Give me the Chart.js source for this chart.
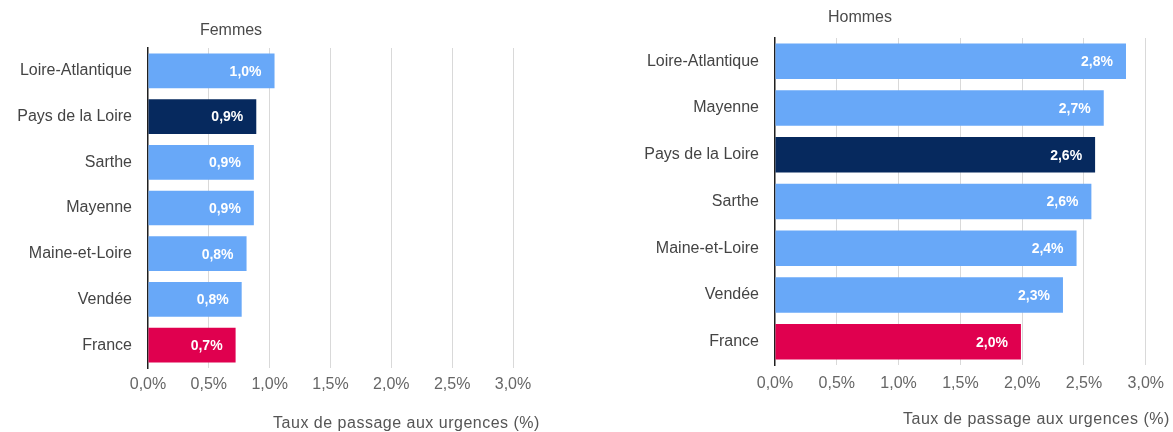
<!DOCTYPE html>
<html>
<head>
<meta charset="utf-8">
<script src="https://cdn.jsdelivr.net/npm/chart.js@4/dist/chart.umd.min.js"></script>
<style>
  body { margin: 0; background: #fff; width: 1173px; height: 432px; position: relative; overflow: hidden; }
  .box { position: absolute; top: 0; height: 432px; }
</style>
</head>
<body>
<div class="box" style="left:0;width:580px"><canvas id="femmesChart"></canvas></div>
<div class="box" style="left:590px;width:583px"><canvas id="hommesChart"></canvas></div>
<script>
// Données
const femmesLabels = ['Loire-Atlantique', 'Pays de la Loire', 'Sarthe', 'Mayenne', 'Maine-et-Loire', 'Vendée', 'France'];
const femmesValues = [1.04, 0.89, 0.87, 0.87, 0.81, 0.77, 0.72];

const hommesLabels = ['Loire-Atlantique', 'Mayenne', 'Pays de la Loire', 'Sarthe', 'Maine-et-Loire', 'Vendée', 'France'];
const hommesValues = [2.84, 2.66, 2.59, 2.56, 2.44, 2.33, 1.99];

const xTicks = [0, 0.5, 1, 1.5, 2, 2.5, 3];
const axisTitle = 'Taux de passage aux urgences (%)';

// Couleurs
const bleu = '#68a8f8';
const marine = '#06295e';
const rose = '#e0004f';

function barColors(labels) {
  return labels.map(l => l === 'France' ? rose : (l === 'Pays de la Loire' ? marine : bleu));
}

const fmt = v => v.toFixed(1).replace('.', ',') + '%';
const police = '"Liberation Sans", Arial, sans-serif';

// Titres + étiquettes de valeur dans les barres
const textPlugin = {
  id: 'textPlugin',
  afterDatasetsDraw(chart, args, opts) {
    const ctx = chart.ctx;
    const area = chart.chartArea;
    const meta = chart.getDatasetMeta(0);
    const data = chart.data.datasets[0].data;
    ctx.save();
    ctx.font = 'bold 14px ' + police;
    ctx.fillStyle = '#ffffff';
    ctx.textAlign = 'right';
    ctx.textBaseline = 'middle';
    meta.data.forEach((bar, i) => {
      ctx.fillText(fmt(data[i]), bar.x - 13, bar.y + 1);
    });
    ctx.font = '16px ' + police;
    ctx.fillStyle = '#4a4a4a';
    ctx.textAlign = 'center';
    ctx.fillText(opts.title, area.left + opts.titleDx, opts.titleY);
    ctx.fillStyle = '#555555';
    ctx.letterSpacing = '0.5px';
    ctx.fillText(axisTitle, (area.left + area.right) / 2 + 76, opts.axisTitleY);
    ctx.restore();
  }
};

function makeConfig(labels, values, o) {
  return {
    type: 'bar',
    data: {
      labels: labels,
      datasets: [{
        data: values,
        backgroundColor: barColors(labels),
        borderWidth: 0,
        barPercentage: 0.76,
        categoryPercentage: 1
      }]
    },
    plugins: [textPlugin],
    options: {
      indexAxis: 'y',
      responsive: true,
      maintainAspectRatio: false,
      animation: false,
      layout: { padding: { left: 0, top: o.top, right: o.right, bottom: 0 } },
      plugins: {
        legend: { display: false },
        tooltip: { enabled: false },
        textPlugin: { title: o.title, titleDx: o.titleDx, titleY: o.titleY, axisTitleY: o.axisTitleY }
      },
      scales: {
        x: {
          min: 0,
          max: 3,
          afterBuildTicks: s => { s.ticks = xTicks.map(v => ({ value: v })); },
          afterFit: s => { s.height = o.xHeight; },
          grid: {
            color: ctx => ctx.index === 0 ? 'rgba(0,0,0,0)' : '#d9d9d9',
            drawTicks: false
          },
          border: { display: false },
          ticks: {
            padding: o.tickPad,
            color: '#666666',
            font: { family: police, size: 16 },
            callback: v => fmt(v)
          }
        },
        y: {
          afterFit: s => { s.width = o.yWidth; },
          grid: { display: false },
          border: { display: true, color: '#1f1f1f', width: 1.5 },
          ticks: {
            padding: 8,
            color: '#444444',
            font: { family: police, size: 16 }
          }
        }
      }
    }
  };
}

new Chart(document.getElementById('femmesChart'), makeConfig(femmesLabels, femmesValues, {
  title: 'Femmes', titleDx: 83, titleY: 31, axisTitleY: 424,
  top: 48, right: 67, xHeight: 64, yWidth: 148, tickPad: 7
}));

new Chart(document.getElementById('hommesChart'), makeConfig(hommesLabels, hommesValues, {
  title: 'Hommes', titleDx: 85, titleY: 18, axisTitleY: 420,
  top: 38, right: 25, xHeight: 67, yWidth: 185, tickPad: 9
}));
</script>
</body>
</html>
